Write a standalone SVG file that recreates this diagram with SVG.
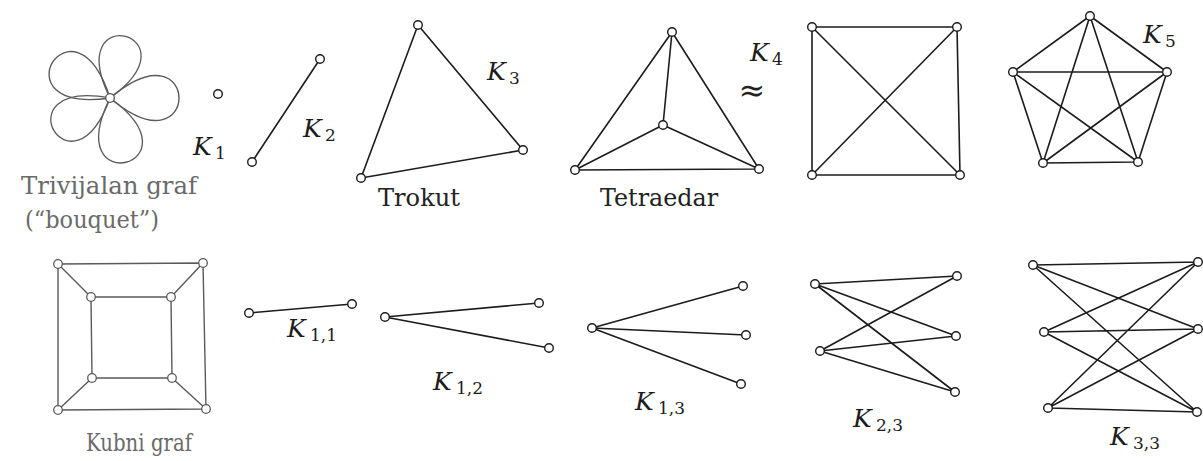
<svg xmlns="http://www.w3.org/2000/svg" width="1203" height="461" viewBox="0 0 1203 461">
<style>
.e{stroke:#1c1c1c;stroke-width:1.6;fill:none;stroke-linecap:round}
.g{stroke:#5a5a5a;stroke-width:1.4;fill:none}
.n{fill:#fff;stroke:#1c1c1c;stroke-width:1.4}
.gn{fill:#fff;stroke:#5a5a5a;stroke-width:1.3}
text{font-family:'DejaVu Serif',serif}
.t{font-size:24px;fill:#222}
.gt{font-size:24px;fill:#6a6a6a}
.k{font-size:25px;font-style:italic;fill:#1c1c1c}
.s{font-size:17px;fill:#1c1c1c}
</style>
<defs>
<path id="petal" d="M0,0 C92,-78 92,78 0,0"/>
</defs>
<g id="connectors">
  <g class="g">
    <use href="#petal" transform="translate(110,98) rotate(0)"/>
    <use href="#petal" transform="translate(110,98) rotate(76) scale(0.96)"/>
    <use href="#petal" transform="translate(110,98) rotate(150) scale(0.94)"/>
    <use href="#petal" transform="translate(110,98) rotate(212) scale(0.98)"/>
    <use href="#petal" transform="translate(110,98) rotate(284) scale(0.92)"/>
  </g>
  <line class="e" x1="252" y1="162" x2="320" y2="59"/>
  <polygon class="e" points="418,25 523,150 361,178"/>
  <polygon class="e" points="672,32 759,169 575,170"/>
  <line class="e" x1="663" y1="125" x2="672" y2="32"/>
  <line class="e" x1="663" y1="125" x2="575" y2="170"/>
  <line class="e" x1="663" y1="125" x2="759" y2="169"/>
  <polygon class="e" points="812,27 957,27 960,175 812,175"/>
  <line class="e" x1="812" y1="27" x2="960" y2="175"/>
  <line class="e" x1="957" y1="27" x2="812" y2="175"/>
  <path class="e" d="M1090,16 L1013,72 M1090,16 L1167,72 M1090,16 L1043,163 M1090,16 L1138,162 M1013,72 L1167,72 M1013,72 L1043,163 M1013,72 L1138,162 M1167,72 L1043,163 M1167,72 L1138,162 M1043,163 L1138,162"/>
  <g class="g">
    <polygon points="58,264 203,263 206,409 58,410"/>
    <polygon points="91,297 171,297 172,378 92,378"/>
    <path d="M58,264 L91,297 M203,263 L171,297 M206,409 L172,378 M58,410 L92,378"/>
  </g>
  <line class="e" x1="249" y1="313" x2="352" y2="304"/>
  <path class="e" d="M385,317 L539,303 M385,317 L549,348"/>
  <path class="e" d="M592,328 L743,286 M592,328 L746,335 M592,328 L741,384"/>
  <path class="e" d="M815,284 L957,276 M815,284 L956,336 M815,284 L955,392 M820,351 L957,276 M820,351 L956,336 M820,351 L955,392"/>
  <path class="e" d="M1033,265 L1198,262 M1033,265 L1198,329 M1033,265 L1197,412 M1044,332 L1198,262 M1044,332 L1198,329 M1044,332 L1197,412 M1048,408 L1198,262 M1048,408 L1198,329 M1048,408 L1197,412"/>
</g>
<g id="bouquet">
  <circle class="gn" cx="110" cy="98" r="4.3"/>
  <text class="gt" x="21" y="194" textLength="176" lengthAdjust="spacingAndGlyphs">Trivijalan graf</text>
  <text class="gt" x="25" y="228" textLength="134" lengthAdjust="spacingAndGlyphs">(“bouquet”)</text>
</g>
<g id="K1">
  <circle class="n" cx="218" cy="94" r="4.3"/>
  <text class="k" x="193" y="155">K</text><text class="s" x="215" y="159">1</text>
</g>
<g id="K2">
  <circle class="n" cx="252" cy="162" r="4.3"/>
  <circle class="n" cx="320" cy="59" r="4.3"/>
  <text class="k" x="303" y="137">K</text><text class="s" x="325" y="141">2</text>
</g>
<g id="K3">
  <circle class="n" cx="418" cy="25" r="4.3"/>
  <circle class="n" cx="523" cy="150" r="4.3"/>
  <circle class="n" cx="361" cy="178" r="4.3"/>
  <text class="k" x="487" y="80">K</text><text class="s" x="509" y="84">3</text>
  <text class="t" x="378" y="206" textLength="82" lengthAdjust="spacingAndGlyphs">Trokut</text>
</g>
<g id="tetraedar">
  <circle class="n" cx="672" cy="32" r="4.3"/>
  <circle class="n" cx="663" cy="125" r="4.3"/>
  <circle class="n" cx="575" cy="170" r="4.3"/>
  <circle class="n" cx="759" cy="169" r="4.3"/>
  <text class="t" x="600" y="206" textLength="118" lengthAdjust="spacingAndGlyphs">Tetraedar</text>
</g>
<g id="K4">
  <text class="k" x="750" y="61">K</text><text class="s" x="772" y="65">4</text>
  <text class="t" x="752" y="101" text-anchor="middle" style="font-size:32px">≈</text>
  <circle class="n" cx="812" cy="27" r="4.3"/>
  <circle class="n" cx="957" cy="27" r="4.3"/>
  <circle class="n" cx="812" cy="175" r="4.3"/>
  <circle class="n" cx="960" cy="175" r="4.3"/>
</g>
<g id="K5">
  <circle class="n" cx="1090" cy="16" r="4.3"/>
  <circle class="n" cx="1013" cy="72" r="4.3"/>
  <circle class="n" cx="1167" cy="72" r="4.3"/>
  <circle class="n" cx="1043" cy="163" r="4.3"/>
  <circle class="n" cx="1138" cy="162" r="4.3"/>
  <text class="k" x="1143" y="43">K</text><text class="s" x="1165" y="47">5</text>
</g>
<g id="cube">
  <circle class="gn" cx="58" cy="264" r="4.3"/>
  <circle class="gn" cx="203" cy="263" r="4.3"/>
  <circle class="gn" cx="58" cy="410" r="4.3"/>
  <circle class="gn" cx="206" cy="409" r="4.3"/>
  <circle class="gn" cx="91" cy="297" r="4.3"/>
  <circle class="gn" cx="171" cy="297" r="4.3"/>
  <circle class="gn" cx="92" cy="378" r="4.3"/>
  <circle class="gn" cx="172" cy="378" r="4.3"/>
  <text class="gt" x="86" y="451" textLength="106" lengthAdjust="spacingAndGlyphs">Kubni graf</text>
</g>
<g id="K11">
  <circle class="n" cx="249" cy="313" r="4.3"/>
  <circle class="n" cx="352" cy="304" r="4.3"/>
  <text class="k" x="287" y="337">K</text><text class="s" x="310" y="341">1,1</text>
</g>
<g id="K12">
  <circle class="n" cx="385" cy="317" r="4.3"/>
  <circle class="n" cx="539" cy="303" r="4.3"/>
  <circle class="n" cx="549" cy="348" r="4.3"/>
  <text class="k" x="433" y="390">K</text><text class="s" x="456" y="394">1,2</text>
</g>
<g id="K13">
  <circle class="n" cx="592" cy="328" r="4.3"/>
  <circle class="n" cx="743" cy="286" r="4.3"/>
  <circle class="n" cx="746" cy="335" r="4.3"/>
  <circle class="n" cx="741" cy="384" r="4.3"/>
  <text class="k" x="635" y="410">K</text><text class="s" x="658" y="414">1,3</text>
</g>
<g id="K23">
  <circle class="n" cx="815" cy="284" r="4.3"/>
  <circle class="n" cx="820" cy="351" r="4.3"/>
  <circle class="n" cx="957" cy="276" r="4.3"/>
  <circle class="n" cx="956" cy="336" r="4.3"/>
  <circle class="n" cx="955" cy="392" r="4.3"/>
  <text class="k" x="853" y="427">K</text><text class="s" x="876" y="431">2,3</text>
</g>
<g id="K33">
  <circle class="n" cx="1033" cy="265" r="4.3"/>
  <circle class="n" cx="1044" cy="332" r="4.3"/>
  <circle class="n" cx="1048" cy="408" r="4.3"/>
  <circle class="n" cx="1198" cy="262" r="4.3"/>
  <circle class="n" cx="1198" cy="329" r="4.3"/>
  <circle class="n" cx="1197" cy="412" r="4.3"/>
  <text class="k" x="1110" y="445">K</text><text class="s" x="1133" y="449">3,3</text>
</g>
</svg>
